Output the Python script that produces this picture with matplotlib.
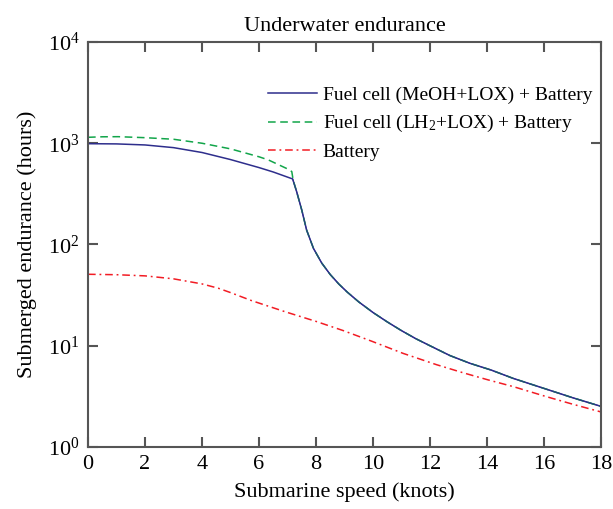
import numpy as np
import matplotlib
matplotlib.use("Agg")
import matplotlib.pyplot as plt

plt.rcParams['font.family'] = 'serif'
plt.rcParams['font.serif'] = ['Liberation Serif', 'DejaVu Serif']
plt.rcParams['mathtext.fontset'] = 'custom'
plt.rcParams['mathtext.rm'] = 'Liberation Serif'
plt.rcParams['mathtext.it'] = 'Liberation Serif:italic'

# speed (knots) and endurance (hours)
speed_meoh = [0, 1, 2, 3, 4, 5, 6, 6.5, 7.18, 7.32, 7.5, 7.67, 7.91, 8.2, 8.5, 8.8, 9.1,
              9.5, 10, 10.5, 11, 11.5, 12, 12.7, 13.4, 14.15, 14.92, 16.09, 17.0, 18]
end_meoh = [990, 985, 962, 905, 810, 690, 575, 520, 444, 333, 219, 139, 91.6, 65.6, 50.5,
            40.7, 33.8, 27.1, 21.3, 17.2, 14.1, 11.75, 10.0, 8.0, 6.71, 5.75, 4.76, 3.72,
            3.07, 2.52]

speed_lh2 = [0, 0.5, 1.06, 2, 3, 4, 5, 6, 6.33, 7.03, 7.15, 7.2, 7.32, 7.5, 7.67, 7.91, 8.2,
             8.5, 8.8, 9.1, 9.5, 10, 10.5, 11, 11.5, 12, 12.7, 13.4, 14.15, 14.92, 16.09,
             17.0, 18]
end_lh2 = [1145, 1158, 1161, 1135, 1095, 1000, 880, 735, 684, 553, 525, 430, 333, 219, 139,
           91.6, 65.6, 50.5, 40.7, 33.8, 27.1, 21.3, 17.2, 14.1, 11.75, 10.0, 8.0, 6.71,
           5.75, 4.76, 3.72, 3.07, 2.52]

speed_bat = [0, 1, 2, 3, 4, 4.57, 5, 5.74, 6.91, 8, 8.96, 9.95, 11.06, 12.23, 13.17, 14.04,
             14.92, 16.09, 17.0, 18]
end_bat = [50.8, 50.3, 49.0, 45.8, 40.8, 37.0, 33.5, 27.9, 21.7, 17.4, 14.1, 11.1, 8.4, 6.5,
           5.4, 4.6, 3.95, 3.14, 2.65, 2.22]

fig = plt.figure(figsize=(6.13, 5.09), dpi=100)
ax = fig.add_axes([0.1436, 0.1218, 0.8368, 0.7957])

ax.plot(speed_meoh, end_meoh, color='#2e2e8c', lw=1.1, label='Fuel cell (MeOH+LOX) + Battery')
ax.plot(speed_lh2, end_lh2, color='#12a54a', lw=1.1, ls=(0, (5, 3)),
        label='Fuel cell (LH$_2$+LOX) + Battery')
ax.plot(speed_bat, end_bat, color='#f21c24', lw=1.1, ls=(0, (5, 2.5, 1.2, 2.5)), label='Battery')
# blue drawn thin on top where the two fuel cell curves overlap
ax.plot(speed_meoh[8:], end_meoh[8:], color='#2e2e8c', lw=0.7)

ax.set_yscale('log')
ax.set_xlim(0, 18)
ax.set_ylim(1, 1e4)
ax.set_xticks(range(0, 19, 2))
ax.set_yticks([1, 10, 100, 1000, 10000])
ax.set_yticklabels(['10$^0$', '10$^1$', '10$^2$', '10$^3$', '10$^4$'])
ax.yaxis.set_minor_locator(matplotlib.ticker.NullLocator())
ax.tick_params(direction='in', length=7, width=1.5, color='#555555', labelsize=16,
               top=True, right=True, pad=6)

for s in ax.spines.values():
    s.set_color('#555555')
    s.set_linewidth(1.5)

ax.set_xlabel('Submarine speed (knots)', fontsize=16, labelpad=6)
ax.set_ylabel('Submerged endurance (hours)', fontsize=16, labelpad=8)
ax.set_title('Underwater endurance', fontsize=16, pad=8)

ax.legend(loc='upper right', bbox_to_anchor=(0.983, 0.89), frameon=False, fontsize=14,
          handlelength=2.5, handletextpad=0.3, labelspacing=0.47,
          borderpad=0, borderaxespad=0)

fig.savefig('out.png', dpi=100)
